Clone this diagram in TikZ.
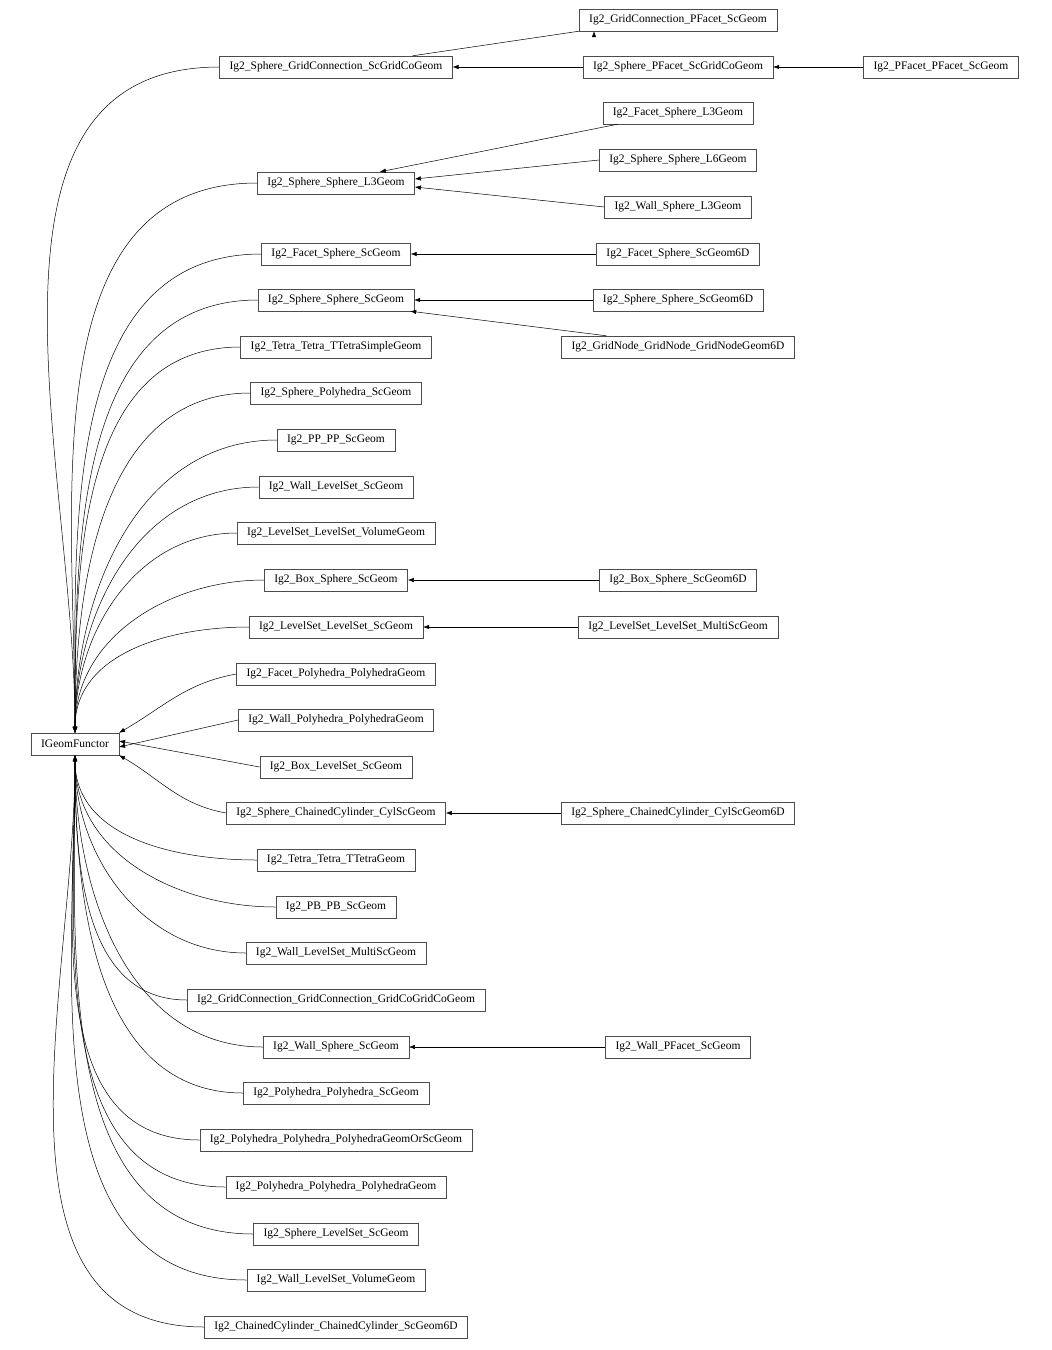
\documentclass[tikz,border=0pt]{standalone}
\usepackage{fontspec}
\setmainfont{Liberation Serif}
\usetikzlibrary{arrows.meta}

\tikzset{
  cls/.style={draw=black!70, fill=white, minimum height=22pt, inner xsep=10pt,
    font=\fontsize{11.5}{13}\selectfont},
  inh/.style={{Latex[length=6pt,width=4.5pt]}-, line width=0.5pt},
}

\begin{document}
\begin{tikzpicture}[x=1pt,y=-1pt]
        \useasboundingbox (0,0) rectangle (1052,1350);

        \node[cls] (g) at (75,744) {IGeomFunctor};

        % middle column
        \foreach \n/\y/\t in {
          gcsc/67/Ig2\_Sphere\_GridConnection\_ScGridCoGeom,
          ssl/183/Ig2\_Sphere\_Sphere\_L3Geom,
          fss/254/Ig2\_Facet\_Sphere\_ScGeom,
          sss/300/Ig2\_Sphere\_Sphere\_ScGeom,
          ttts/347/Ig2\_Tetra\_Tetra\_TTetraSimpleGeom,
          spol/393/Ig2\_Sphere\_Polyhedra\_ScGeom,
          pp/440/Ig2\_PP\_PP\_ScGeom,
          wls/487/Ig2\_Wall\_LevelSet\_ScGeom,
          lsvol/533/Ig2\_LevelSet\_LevelSet\_VolumeGeom,
          bss/580/Ig2\_Box\_Sphere\_ScGeom,
          lsls/627/Ig2\_LevelSet\_LevelSet\_ScGeom,
          fpol/674/Ig2\_Facet\_Polyhedra\_PolyhedraGeom,
          wpol/720/Ig2\_Wall\_Polyhedra\_PolyhedraGeom,
          bls/767/Ig2\_Box\_LevelSet\_ScGeom,
          scc/813/Ig2\_Sphere\_ChainedCylinder\_CylScGeom,
          ttt/860/Ig2\_Tetra\_Tetra\_TTetraGeom,
          pb/907/Ig2\_PB\_PB\_ScGeom,
          wlsm/953/Ig2\_Wall\_LevelSet\_MultiScGeom,
          gcgc/1000/Ig2\_GridConnection\_GridConnection\_GridCoGridCoGeom,
          ws/1047/Ig2\_Wall\_Sphere\_ScGeom,
          pps/1093/Ig2\_Polyhedra\_Polyhedra\_ScGeom,
          ppo/1140/Ig2\_Polyhedra\_Polyhedra\_PolyhedraGeomOrScGeom,
          ppp/1187/Ig2\_Polyhedra\_Polyhedra\_PolyhedraGeom,
          sls/1234/Ig2\_Sphere\_LevelSet\_ScGeom,
          wlv/1280/Ig2\_Wall\_LevelSet\_VolumeGeom,
          ccc/1327/Ig2\_ChainedCylinder\_ChainedCylinder\_ScGeom6D}
          \node[cls] (\n) at (336,\y) {\t};

        % right column
        \foreach \n/\y/\t in {
          gcpf/20/Ig2\_GridConnection\_PFacet\_ScGeom,
          spf/67/Ig2\_Sphere\_PFacet\_ScGridCoGeom,
          fsl/113/Ig2\_Facet\_Sphere\_L3Geom,
          ssl6/160/Ig2\_Sphere\_Sphere\_L6Geom,
          wsl/207/Ig2\_Wall\_Sphere\_L3Geom,
          fss6/254/Ig2\_Facet\_Sphere\_ScGeom6D,
          sss6/300/Ig2\_Sphere\_Sphere\_ScGeom6D,
          gn/347/Ig2\_GridNode\_GridNode\_GridNodeGeom6D,
          bss6/580/Ig2\_Box\_Sphere\_ScGeom6D,
          lsm/627/Ig2\_LevelSet\_LevelSet\_MultiScGeom,
          scc6/813/Ig2\_Sphere\_ChainedCylinder\_CylScGeom6D,
          wpf/1047/Ig2\_Wall\_PFacet\_ScGeom}
          \node[cls] (\n) at (678,\y) {\t};

        \node[cls] (pfpf) at (941,67) {Ig2\_PFacet\_PFacet\_ScGeom};

        % #######################################

        \foreach \c in {gcsc,ssl,fss,sss,ttts,spol,pp,wls,lsvol,bss,lsls}
          \draw[inh] (g.north) to[out=90,in=180] (\c.west);
        \draw[inh] (g.north east) to[out=30,in=190] (fpol.west);
        \draw[inh] ([yshift=-3pt]g.east) -- (wpol.west);
        \draw[inh] ([yshift=3pt]g.east) -- (bls.west);
        \draw[inh] (g.south east) to[out=-30,in=170] (scc.west);
        \foreach \c in {ttt,pb,wlsm,gcgc,ws,pps,ppo,ppp,sls,wlv,ccc}
          \draw[inh] (g.south) to[out=-90,in=180] (\c.west);

        \draw[inh] (gcsc.north east) ++(-40,0) -- (gcpf.south west) ++(15,0);
        \draw[inh] (gcsc.east) -- (spf.west);
        \draw[inh] (spf.east) -- (pfpf.west);
        \draw[inh] ([xshift=-35pt]ssl.north east) -- ([xshift=15pt]fsl.south west);
        \draw[inh] ([yshift=4pt]ssl.east) -- (ssl6.west);
        \draw[inh] ([yshift=-4pt]ssl.east) -- (wsl.west);
        \draw[inh] (fss.east) -- (fss6.west);
        \draw[inh] (sss.east) -- (sss6.west);
        \draw[inh] ([xshift=-4pt]sss.south east) -- ([xshift=45pt]gn.north west);
        \draw[inh] (bss.east) -- (bss6.west);
        \draw[inh] (lsls.east) -- (lsm.west);
        \draw[inh] (scc.east) -- (scc6.west);
        \draw[inh] (ws.east) -- (wpf.west);

    \end{tikzpicture}
\end{document}
